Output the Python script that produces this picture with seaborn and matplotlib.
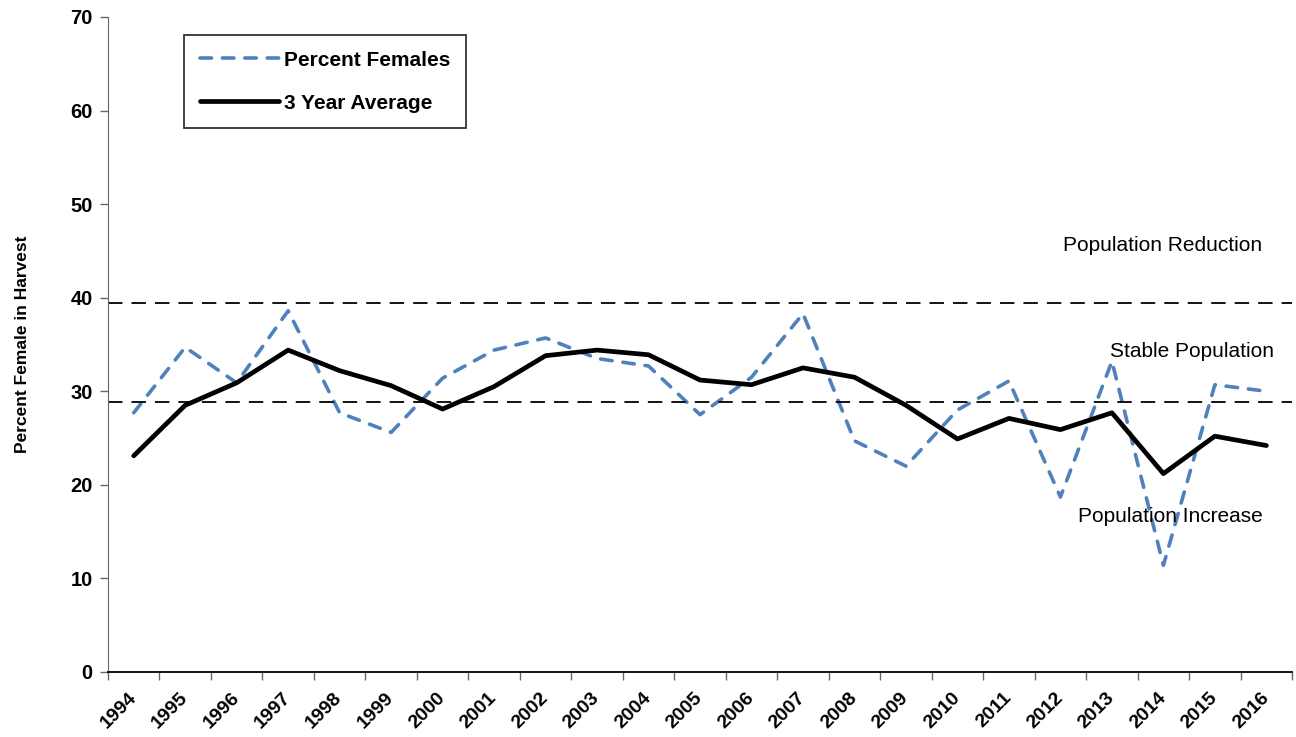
import pandas as pd
import matplotlib
matplotlib.use('Agg')
import matplotlib.pyplot as plt
import seaborn as sns

# Données
years = [str(y) for y in range(1994, 2017)]
percent_females = [27.7, 34.7, 30.9, 38.6, 27.7, 25.6, 31.4, 34.4, 35.7, 33.5, 32.7,
                   27.5, 31.5, 38.3, 24.7, 22.0, 28.0, 31.1, 18.7, 33.2, 11.4, 30.7, 30.0]
three_year_avg = [23.1, 28.5, 30.9, 34.4, 32.2, 30.6, 28.1, 30.5, 33.8, 34.4, 33.9,
                  31.2, 30.7, 32.5, 31.5, 28.5, 24.9, 27.1, 25.9, 27.7, 21.2, 25.2, 24.2]
upper_threshold = 39.4
lower_threshold = 28.9
zone_labels = ['Population Reduction', 'Stable Population', 'Population Increase']
zone_y = [45.6, 34.3, 16.6]

sns.set_style('white')
plt.rcParams['font.family'] = ['Liberation Sans', 'DejaVu Sans']
plt.rcParams['text.color'] = 'black'
plt.rcParams['xtick.color'] = 'black'
plt.rcParams['ytick.color'] = 'black'
plt.rcParams['axes.labelcolor'] = 'black'

df = pd.DataFrame({
    'pos': range(len(years)),
    'Percent Females': percent_females,
    '3 Year Average': three_year_avg,
})

fig = plt.figure(figsize=(12.96, 7.37), dpi=100)
ax = fig.add_axes([0.0833, 0.0882, 0.9137, 0.8888])

sns.lineplot(data=df, x='pos', y='Percent Females', ax=ax, color='#4F81BD',
             linewidth=2.6, label='Percent Females')
ax.lines[-1].set_dashes((3.2, 3.0))
ax.lines[-1].set_dash_capstyle('round')
sns.lineplot(data=df, x='pos', y='3 Year Average', ax=ax, color='black',
             linewidth=3.4, label='3 Year Average')

ax.axhline(upper_threshold, color='black', lw=1.3, dashes=(8, 5))
ax.axhline(lower_threshold, color='black', lw=1.3, dashes=(8, 5))

# Étiquettes des zones
ax.text(21.92, zone_y[0], zone_labels[0], ha='right', va='center', fontsize=15)
ax.text(18.96, zone_y[1], zone_labels[1], ha='left', va='center', fontsize=15)
ax.text(21.92, zone_y[2], zone_labels[2], ha='right', va='center', fontsize=15)

ax.set_xlim(-0.5, len(years) - 0.5)
ax.set_ylim(0, 70)
ax.set_yticks(range(0, 71, 10))
ax.set_xticks(range(len(years)))
ax.set_xticklabels(years, rotation=45, ha='right', va='center', rotation_mode='anchor',
                   fontsize=14, fontweight='bold')
ax.set_xticks([i - 0.5 for i in range(len(years) + 1)], minor=True)
ax.tick_params(axis='x', which='major', length=0, pad=16.5, bottom=True)
ax.tick_params(axis='x', which='minor', length=6, width=1, color='#666666',
               direction='out', bottom=True)
ax.tick_params(axis='y', length=6, width=1, color='#666666', direction='out',
               left=True, pad=5)
for t in ax.get_yticklabels():
    t.set_fontweight('bold')
    t.set_fontsize(14.5)

ax.set_xlabel('')
ax.set_ylabel('Percent Female in Harvest', fontsize=12.5, fontweight='bold')
ax.yaxis.set_label_coords(-0.066, 0.5)

sns.despine(ax=ax)
ax.spines['left'].set_color('#666666')
ax.spines['bottom'].set_color('black')
ax.spines['bottom'].set_linewidth(1.3)

leg = ax.legend(loc='upper left', bbox_to_anchor=(0.0642, 0.9725), borderaxespad=0,
                prop={'weight': 'bold', 'size': 15}, frameon=True, fancybox=False,
                handlelength=3.8, borderpad=0.75, labelspacing=1.15, handletextpad=0.25)
leg.get_frame().set_edgecolor('black')
leg.get_frame().set_linewidth(1.3)

fig.savefig('out.png', dpi=100)
